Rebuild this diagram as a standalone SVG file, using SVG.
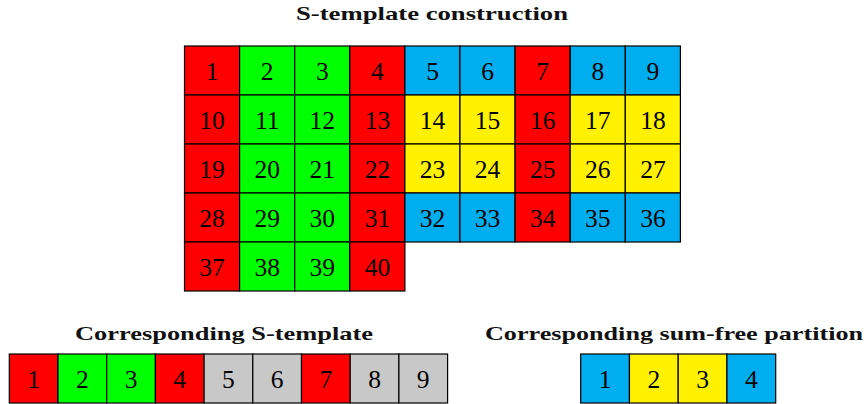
<svg xmlns="http://www.w3.org/2000/svg" width="868" height="404" viewBox="0 0 868 404">
<style>
.c rect{stroke:#000;stroke-width:1.2}
.c text{font-family:"Liberation Serif","DejaVu Serif",serif;font-size:25.5px;text-anchor:middle;fill:#000}
.t{font-family:"Liberation Serif","DejaVu Serif",serif;font-weight:bold;font-size:19.5px;text-anchor:middle;fill:#111}
.r{fill:#FF0000}.g{fill:#00FF00}.b{fill:#00AEEF}.y{fill:#FFF100}.s{fill:#C8C8C8}
</style>
<rect width="868" height="404" fill="#fff"/>
<text class="t" x="432" y="19.5" textLength="272" lengthAdjust="spacingAndGlyphs">S-template construction</text>
<text class="t" x="224" y="339.5" textLength="298" lengthAdjust="spacingAndGlyphs">Corresponding S-template</text>
<text class="t" x="674" y="339.5" textLength="378" lengthAdjust="spacingAndGlyphs">Corresponding sum-free partition</text>
<g id="grid" class="c">
<g id="n1"><rect class="r" x="184.5" y="46" width="55.1" height="49"/><text x="212" y="80">1</text></g>
<g id="n2"><rect class="g" x="239.6" y="46" width="55.1" height="49"/><text x="267.2" y="80">2</text></g>
<g id="n3"><rect class="g" x="294.7" y="46" width="55.1" height="49"/><text x="322.3" y="80">3</text></g>
<g id="n4"><rect class="r" x="349.8" y="46" width="55.1" height="49"/><text x="377.4" y="80">4</text></g>
<g id="n5"><rect class="b" x="404.9" y="46" width="55.1" height="49"/><text x="432.5" y="80">5</text></g>
<g id="n6"><rect class="b" x="460" y="46" width="55.1" height="49"/><text x="487.6" y="80">6</text></g>
<g id="n7"><rect class="r" x="515.1" y="46" width="55.1" height="49"/><text x="542.7" y="80">7</text></g>
<g id="n8"><rect class="b" x="570.2" y="46" width="55.1" height="49"/><text x="597.8" y="80">8</text></g>
<g id="n9"><rect class="b" x="625.3" y="46" width="55.1" height="49"/><text x="652.9" y="80">9</text></g>

<g id="n10"><rect class="r" x="184.5" y="95" width="55.1" height="49"/><text x="212" y="129">10</text></g>
<g id="n11"><rect class="g" x="239.6" y="95" width="55.1" height="49"/><text x="267.2" y="129">11</text></g>
<g id="n12"><rect class="g" x="294.7" y="95" width="55.1" height="49"/><text x="322.3" y="129">12</text></g>
<g id="n13"><rect class="r" x="349.8" y="95" width="55.1" height="49"/><text x="377.4" y="129">13</text></g>
<g id="n14"><rect class="y" x="404.9" y="95" width="55.1" height="49"/><text x="432.5" y="129">14</text></g>
<g id="n15"><rect class="y" x="460" y="95" width="55.1" height="49"/><text x="487.6" y="129">15</text></g>
<g id="n16"><rect class="r" x="515.1" y="95" width="55.1" height="49"/><text x="542.7" y="129">16</text></g>
<g id="n17"><rect class="y" x="570.2" y="95" width="55.1" height="49"/><text x="597.8" y="129">17</text></g>
<g id="n18"><rect class="y" x="625.3" y="95" width="55.1" height="49"/><text x="652.9" y="129">18</text></g>

<g id="n19"><rect class="r" x="184.5" y="144" width="55.1" height="49"/><text x="212" y="178">19</text></g>
<g id="n20"><rect class="g" x="239.6" y="144" width="55.1" height="49"/><text x="267.2" y="178">20</text></g>
<g id="n21"><rect class="g" x="294.7" y="144" width="55.1" height="49"/><text x="322.3" y="178">21</text></g>
<g id="n22"><rect class="r" x="349.8" y="144" width="55.1" height="49"/><text x="377.4" y="178">22</text></g>
<g id="n23"><rect class="y" x="404.9" y="144" width="55.1" height="49"/><text x="432.5" y="178">23</text></g>
<g id="n24"><rect class="y" x="460" y="144" width="55.1" height="49"/><text x="487.6" y="178">24</text></g>
<g id="n25"><rect class="r" x="515.1" y="144" width="55.1" height="49"/><text x="542.7" y="178">25</text></g>
<g id="n26"><rect class="y" x="570.2" y="144" width="55.1" height="49"/><text x="597.8" y="178">26</text></g>
<g id="n27"><rect class="y" x="625.3" y="144" width="55.1" height="49"/><text x="652.9" y="178">27</text></g>

<g id="n28"><rect class="r" x="184.5" y="193" width="55.1" height="49"/><text x="212" y="227">28</text></g>
<g id="n29"><rect class="g" x="239.6" y="193" width="55.1" height="49"/><text x="267.2" y="227">29</text></g>
<g id="n30"><rect class="g" x="294.7" y="193" width="55.1" height="49"/><text x="322.3" y="227">30</text></g>
<g id="n31"><rect class="r" x="349.8" y="193" width="55.1" height="49"/><text x="377.4" y="227">31</text></g>
<g id="n32"><rect class="b" x="404.9" y="193" width="55.1" height="49"/><text x="432.5" y="227">32</text></g>
<g id="n33"><rect class="b" x="460" y="193" width="55.1" height="49"/><text x="487.6" y="227">33</text></g>
<g id="n34"><rect class="r" x="515.1" y="193" width="55.1" height="49"/><text x="542.7" y="227">34</text></g>
<g id="n35"><rect class="b" x="570.2" y="193" width="55.1" height="49"/><text x="597.8" y="227">35</text></g>
<g id="n36"><rect class="b" x="625.3" y="193" width="55.1" height="49"/><text x="652.9" y="227">36</text></g>

<g id="n37"><rect class="r" x="184.5" y="242" width="55.1" height="49"/><text x="212" y="276">37</text></g>
<g id="n38"><rect class="g" x="239.6" y="242" width="55.1" height="49"/><text x="267.2" y="276">38</text></g>
<g id="n39"><rect class="g" x="294.7" y="242" width="55.1" height="49"/><text x="322.3" y="276">39</text></g>
<g id="n40"><rect class="r" x="349.8" y="242" width="55.1" height="49"/><text x="377.4" y="276">40</text></g>
</g>
<g id="stemplate" class="c">
<g id="s1"><rect class="r" x="9.3" y="354" width="48.7" height="49"/><text x="33.6" y="388">1</text></g>
<g id="s2"><rect class="g" x="58" y="354" width="48.7" height="49"/><text x="82.3" y="388">2</text></g>
<g id="s3"><rect class="g" x="106.7" y="354" width="48.7" height="49"/><text x="131" y="388">3</text></g>
<g id="s4"><rect class="r" x="155.4" y="354" width="48.7" height="49"/><text x="179.7" y="388">4</text></g>
<g id="s5"><rect class="s" x="204.1" y="354" width="48.7" height="49"/><text x="228.4" y="388">5</text></g>
<g id="s6"><rect class="s" x="252.8" y="354" width="48.7" height="49"/><text x="277.1" y="388">6</text></g>
<g id="s7"><rect class="r" x="301.5" y="354" width="48.7" height="49"/><text x="325.8" y="388">7</text></g>
<g id="s8"><rect class="s" x="350.2" y="354" width="48.7" height="49"/><text x="374.5" y="388">8</text></g>
<g id="s9"><rect class="s" x="398.9" y="354" width="48.7" height="49"/><text x="423.2" y="388">9</text></g>
</g>
<g id="partition" class="c">
<g id="p1"><rect class="b" x="580.7" y="354" width="48.75" height="49"/><text x="605" y="388">1</text></g>
<g id="p2"><rect class="y" x="629.45" y="354" width="48.75" height="49"/><text x="653.8" y="388">2</text></g>
<g id="p3"><rect class="y" x="678.2" y="354" width="48.75" height="49"/><text x="702.6" y="388">3</text></g>
<g id="p4"><rect class="b" x="726.95" y="354" width="48.75" height="49"/><text x="751.3" y="388">4</text></g>
</g>
</svg>
